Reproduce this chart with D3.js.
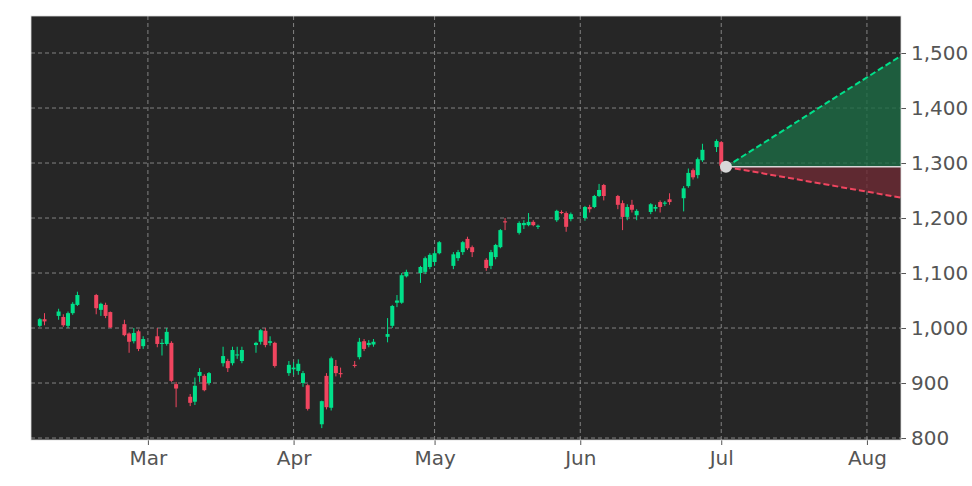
<!DOCTYPE html>
<html><head><meta charset="utf-8">
<script src="https://cdn.jsdelivr.net/npm/d3@7"></script>
<style>body{margin:0;background:#fff}svg{display:block}</style>
</head><body><svg id="c" width="972" height="486"></svg>
<script>
const startDate = "2020-02-06", endDate = "2020-06-30";
const holidays = ["2020-02-17", "2020-05-25"];
// [open, high, low, close]
const ohlc = [
[1004,1018,1002,1016],[1016,1027,1005,1012],
[1022,1035,1015,1030],[1020,1025,1002,1005],[1004,1030,1000,1027],[1027,1047,1024,1044],[1042,1066,1040,1060],
[1060,1062,1025,1036],[1033,1046,1022,1044],[1042,1046,1018,1022],[1029,1030,1000,1001],
[1007,1015,985,987],[990,992,955,975],[976,1000,972,991],[994,997,958,962],[967,985,962,980],
[985,1000,965,971],[971,980,950,973],[971,1000,968,993],[973,976,902,904],[898,902,856,890],
[875,880,858,864],[866,910,860,895],[913,927,902,920],[913,916,885,887],[900,920,896,918],
[936,966,930,949],[940,944,920,927],[936,966,932,960],[950,966,944,952],[940,966,936,960],
[969,975,955,973],[975,998,970,996],[995,1000,965,969],[973,985,968,976],[973,975,928,931],
[918,940,913,933],[925,938,915,928],[922,943,915,935],[900,922,893,918],[896,898,850,853],
[825,868,818,867],[913,918,852,856],[855,948,850,945],[931,942,912,918],[918,928,910,916],
[933,940,928,931],[947,982,943,975],[976,980,958,962],[969,978,965,973],[970,980,966,975],
[984,1018,974,989],[1004,1042,1000,1040],[1046,1060,1038,1050],[1046,1100,1044,1096],[1094,1106,1092,1102],
[1100,1113,1082,1111],[1102,1130,1098,1127],[1111,1136,1107,1133],[1120,1140,1113,1136],[1136,1158,1134,1156],
[1113,1138,1107,1134],[1127,1142,1122,1138],[1138,1158,1133,1156],[1162,1166,1142,1145],[1147,1150,1129,1138],
[1124,1127,1104,1109],[1113,1142,1107,1138],[1129,1153,1125,1151],[1147,1180,1145,1178],[1194,1200,1178,1192],
[1173,1194,1170,1191],[1187,1196,1180,1191],[1187,1209,1185,1193],[1193,1196,1185,1187],[1184,1188,1180,1186],
[1196,1215,1193,1213],[1211,1214,1207,1209],[1209,1212,1175,1184],[1198,1210,1194,1207],
[1200,1222,1195,1220],[1220,1224,1210,1216],[1220,1242,1218,1240],[1240,1262,1238,1251],[1260,1262,1232,1240],
[1240,1242,1216,1224],[1227,1232,1178,1202],[1202,1225,1196,1220],[1224,1233,1210,1215],[1205,1216,1196,1213],
[1211,1227,1207,1225],[1217,1224,1212,1220],[1229,1232,1210,1220],[1226,1231,1222,1228],[1234,1245,1224,1229],
[1236,1258,1212,1254],[1258,1290,1255,1282],[1287,1290,1270,1274],[1278,1310,1272,1307],[1305,1335,1302,1324],
[1329,1343,1320,1340],[1338,1340,1286,1295]
];
const fcStart = "2020-07-02", fcEnd = "2020-08-08T06:00";
const fcStartVal = 1293, fcUpper = 1495, fcLower = 1237;
const yTicks = [800,900,1000,1100,1200,1300,1400,1500];
const xTicks = ["2020-03-01","2020-04-01","2020-05-01","2020-06-01","2020-07-01","2020-08-01"];

const pd = d3.utcParse("%Y-%m-%d");
const P = s => new Date(s + (s.length===10?"T00:00:00Z":"Z"));
const hol = new Set(holidays);
const dates = d3.utcDays(P(startDate), d3.utcDay.offset(P(endDate),1))
  .filter(d => d.getUTCDay()%6 !== 0 && !hol.has(d3.utcFormat("%Y-%m-%d")(d)));
const data = dates.map((d,i)=>({d, o:ohlc[i][0], h:ohlc[i][1], l:ohlc[i][2], c:ohlc[i][3]}));

const L=31, R=901, T=16, B=440;
const svg = d3.select("#c");
const x = d3.scaleUtc().domain([P("2020-02-05T03:00:00"), P(fcEnd)]).range([L,R]);
const y = d3.scaleLinear().domain([796.4,1567.3]).range([B,T]);
const cx = d => x(d3.utcDay.offset(d,1));

svg.append("rect").attr("x",L).attr("y",T).attr("width",R-L).attr("height",B-T).attr("fill","#262626");
const clip = svg.append("clipPath").attr("id","cp").append("rect").attr("x",L).attr("y",T).attr("width",R-L).attr("height",B-T);
const g = svg.append("g").attr("clip-path","url(#cp)");
// grid
g.selectAll(".gy").data(yTicks).join("line").attr("x1",L).attr("x2",R).attr("y1",d=>y(d)).attr("y2",d=>y(d))
 .attr("stroke","#9a9a9a").attr("stroke-dasharray","4,3").attr("stroke-width",0.8);
g.selectAll(".gx").data(xTicks).join("line").attr("y1",T).attr("y2",B).attr("x1",d=>x(P(d))).attr("x2",d=>x(P(d)))
 .attr("stroke","#9a9a9a").attr("stroke-dasharray","4,3").attr("stroke-width",0.8);
// candles
const up="#00e08a", dn="#f0455f";
g.selectAll(".w").data(data).join("line").attr("x1",d=>cx(d.d)).attr("x2",d=>cx(d.d))
 .attr("y1",d=>y(d.h)).attr("y2",d=>y(d.l)).attr("stroke",d=>d.c>=d.o?up:dn).attr("stroke-width",1);
g.selectAll(".b").data(data).join("rect").attr("x",d=>cx(d.d)-2).attr("width",4)
 .attr("y",d=>y(Math.max(d.o,d.c))).attr("height",d=>Math.max(1,Math.abs(y(d.o)-y(d.c))))
 .attr("fill",d=>d.c>=d.o?up:dn);
// forecast
const x0=x(P(fcStart)), x1=x(P(fcEnd));
g.append("path").attr("d",`M${x0},${y(fcStartVal)}L${x1},${y(fcUpper)}L${x1},${y(fcStartVal)}Z`).attr("fill","#1d6b45").attr("opacity",0.8);
g.append("path").attr("d",`M${x0},${y(fcStartVal)}L${x1},${y(fcLower)}L${x1},${y(fcStartVal)}Z`).attr("fill","#6e2a35").attr("opacity",0.8);
g.append("line").attr("x1",x0).attr("x2",x1).attr("y1",y(fcStartVal)).attr("y2",y(fcStartVal)).attr("stroke","#d8d8d8").attr("stroke-width",1.5);
g.append("line").attr("x1",x0).attr("x2",x1).attr("y1",y(fcStartVal)).attr("y2",y(fcUpper)).attr("stroke",up).attr("stroke-width",2).attr("stroke-dasharray","6,3");
g.append("line").attr("x1",x0).attr("x2",x1).attr("y1",y(fcStartVal)).attr("y2",y(fcLower)).attr("stroke",dn).attr("stroke-width",2).attr("stroke-dasharray","6,3");
g.append("circle").attr("cx",x0).attr("cy",y(fcStartVal)).attr("r",6).attr("fill","#d8d8d8");
// axes
const ya = svg.append("g").attr("transform",`translate(${R},0)`).call(d3.axisRight(y).tickValues(yTicks).tickSize(5).tickPadding(5));
const xa = svg.append("g").attr("transform",`translate(0,${B})`).call(d3.axisBottom(x).tickValues(xTicks.map(P)).tickFormat(d3.utcFormat("%b")).tickSize(5).tickPadding(6));
[ya,xa].forEach(a=>{a.select(".domain").remove();a.selectAll("line").attr("stroke","#555");
 a.selectAll("text").attr("fill","#555").style("font-family","DejaVu Sans").style("font-size","20px");});
svg.append("rect").attr("x",L).attr("y",T).attr("width",R-L).attr("height",B-T).attr("fill","none").attr("stroke","#ddd").attr("stroke-width",0.8);
</script></body></html>
